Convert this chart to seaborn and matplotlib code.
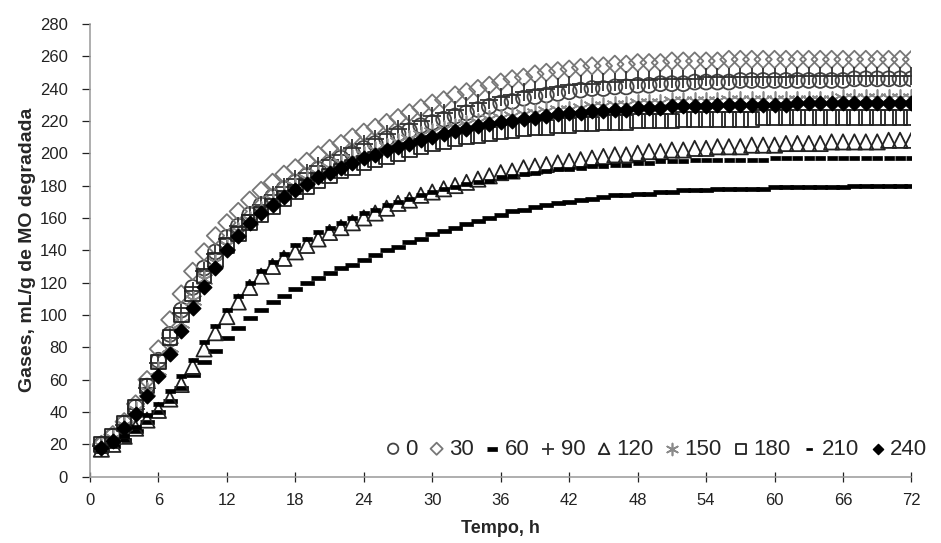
import pandas as pd
import matplotlib
matplotlib.use('Agg')
import matplotlib.pyplot as plt
import seaborn as sns

# Incubation time (h) and cumulative gas production per treatment
hours = list(range(1, 73))

gas_0 = [20, 25, 33, 43, 56, 72, 88, 103, 117, 129,
         139, 148, 155, 162, 168, 173, 178, 182, 186, 190,
         193, 197, 200, 203, 206, 209, 212, 214, 217, 219,
         221, 223, 225, 227, 229, 231, 232, 234, 235, 236,
         237, 238, 239, 240, 240, 241, 241, 242, 242, 243,
         243, 243, 244, 244, 244, 244, 245, 245, 245, 245,
         245, 245, 245, 245, 245, 245, 246, 246, 246, 246, 246, 246]
gas_30 = [20, 26, 34, 45, 60, 79, 97, 113, 127, 139,
          149, 157, 164, 171, 177, 182, 187, 191, 195, 199,
          203, 206, 210, 213, 216, 219, 222, 225, 228, 231,
          233, 236, 238, 240, 242, 244, 246, 247, 249, 250,
          251, 252, 253, 254, 254, 255, 255, 256, 256, 256,
          257, 257, 257, 257, 257, 258, 258, 258, 258, 258,
          258, 258, 258, 258, 258, 258, 258, 258, 258, 258, 258, 258]
gas_60 = [16, 19, 23, 28, 34, 40, 47, 55, 63, 71,
          78, 86, 92, 98, 103, 108, 112, 116, 120, 123,
          126, 129, 131, 134, 137, 140, 142, 145, 147, 150,
          152, 154, 156, 158, 160, 162, 164, 165, 167, 168,
          169, 170, 171, 172, 173, 174, 174, 175, 175, 176,
          176, 177, 177, 177, 178, 178, 178, 178, 178, 179,
          179, 179, 179, 179, 179, 179, 180, 180, 180, 180, 180, 180]
gas_90 = [19, 24, 32, 42, 55, 70, 86, 101, 115, 127,
          138, 147, 155, 162, 168, 174, 179, 184, 188, 192,
          196, 199, 203, 206, 209, 212, 215, 218, 220, 223,
          225, 227, 229, 231, 233, 235, 236, 238, 239, 240,
          241, 242, 243, 243, 244, 244, 245, 245, 245, 246,
          246, 246, 246, 247, 247, 247, 247, 247, 247, 247,
          247, 248, 248, 248, 248, 248, 248, 248, 248, 248, 248, 248]
gas_120 = [17, 20, 25, 30, 35, 41, 48, 57, 68, 79,
           89, 99, 108, 117, 124, 130, 135, 139, 143, 147,
           151, 154, 157, 160, 163, 166, 169, 171, 174, 176,
           178, 180, 182, 184, 186, 188, 189, 191, 192, 193,
           194, 195, 196, 197, 198, 199, 199, 200, 201, 201,
           202, 202, 203, 203, 204, 204, 204, 205, 205, 205,
           206, 206, 206, 206, 207, 207, 207, 207, 207, 208, 208, 208]
gas_150 = [19, 24, 32, 41, 53, 66, 80, 95, 109, 122,
           133, 143, 152, 159, 165, 171, 175, 180, 184, 187,
           191, 194, 197, 199, 202, 204, 207, 209, 211, 213,
           215, 216, 218, 219, 221, 222, 223, 224, 225, 226,
           227, 227, 228, 229, 229, 230, 230, 231, 231, 231,
           232, 232, 232, 232, 232, 233, 233, 233, 233, 233,
           233, 233, 233, 233, 233, 234, 234, 234, 234, 234, 234, 234]
gas_180 = [20, 25, 33, 43, 56, 71, 86, 100, 113, 124,
           134, 143, 150, 157, 162, 167, 172, 176, 179, 183,
           186, 189, 191, 194, 196, 198, 200, 202, 204, 206,
           207, 209, 210, 211, 212, 213, 214, 215, 216, 216,
           217, 217, 218, 218, 219, 219, 219, 220, 220, 220,
           220, 221, 221, 221, 221, 221, 221, 221, 222, 222,
           222, 222, 222, 222, 222, 222, 222, 222, 222, 222, 222, 222]
gas_210 = [17, 20, 25, 31, 38, 45, 53, 62, 72, 83,
           93, 103, 112, 120, 127, 133, 138, 143, 147, 151,
           154, 157, 160, 163, 165, 168, 170, 172, 174, 176,
           178, 179, 181, 182, 183, 185, 186, 187, 188, 189,
           190, 190, 191, 192, 192, 193, 193, 194, 194, 195,
           195, 195, 196, 196, 196, 196, 196, 196, 196, 197,
           197, 197, 197, 197, 197, 197, 197, 197, 197, 197, 197, 197]
gas_240 = [18, 22, 30, 39, 50, 62, 76, 90, 104, 117,
           129, 140, 149, 157, 163, 168, 173, 177, 181, 185,
           188, 191, 194, 197, 199, 202, 204, 206, 208, 210,
           212, 214, 215, 217, 218, 219, 220, 221, 222, 223,
           224, 225, 225, 226, 226, 227, 227, 228, 228, 228,
           229, 229, 229, 229, 230, 230, 230, 230, 230, 230,
           230, 231, 231, 231, 231, 231, 231, 231, 231, 231, 231, 231]

treatments = ['0', '30', '60', '90', '120', '150', '180', '210', '240']
series = [gas_0, gas_30, gas_60, gas_90, gas_120, gas_150, gas_180, gas_210, gas_240]

# marker, face colour, edge colour, size (points^2), edge width
thick_dash = [(-1, -0.3), (1, -0.3), (1, 0.3), (-1, 0.3)]
short_dash = [(-1, -0.32), (1, -0.32), (1, 0.32), (-1, 0.32)]
styles = {
    '0': ('o', 'none', '#444444', 115, 1.3),
    '30': ('D', 'none', '#777777', 78, 1.3),
    '60': (thick_dash, 'black', 'black', 115, 0.5),
    '90': ('+', '#333333', '#333333', 150, 1.3),
    '120': ('^', 'none', '#222222', 120, 1.3),
    '150': ((6, 2, 0), '#8a8a8a', '#8a8a8a', 150, 1.2),
    '180': ('s', 'none', '#222222', 110, 1.3),
    '210': (short_dash, 'black', 'black', 48, 0.5),
    '240': ('D', 'black', 'black', 55, 1.0),
}

frames = []
for name, values in zip(treatments, series):
    frames.append(pd.DataFrame({'Tempo': hours, 'Gases': values, 'Tratamento': name}))
df = pd.concat(frames, ignore_index=True)

sns.set_style('white')
plt.rcParams['font.family'] = ['Liberation Sans', 'DejaVu Sans']

fig = plt.figure(figsize=(9.41, 5.43), dpi=100)
ax = fig.add_axes([0.0956, 0.1221, 0.873, 0.834])

for name in treatments:
    marker, face, edge, size, lw = styles[name]
    sub = df[df['Tratamento'] == name]
    sns.scatterplot(data=sub, x='Tempo', y='Gases', ax=ax, marker=marker, s=size,
                    facecolor=face, edgecolor=edge, linewidth=lw, label=name, legend=False)

ax.set_xlim(0, 72)
ax.set_ylim(0, 280)
ax.set_xticks(range(0, 73, 6))
ax.set_yticks(range(0, 281, 20))
ax.tick_params(axis='both', labelsize=12, colors='#222222', width=0.9,
               left=True, bottom=True)
ax.tick_params(axis='y', direction='out', length=6, pad=10)
ax.tick_params(axis='x', direction='inout', length=7, pad=8)
for tick_line in ax.get_xticklines() + ax.get_yticklines():
    tick_line.set_color('#999999')
sns.despine(ax=ax)
for side in ['left', 'bottom']:
    ax.spines[side].set_color('#999999')
    ax.spines[side].set_linewidth(1.1)

ax.set_xlabel('Tempo, h', fontsize=13, fontweight='bold', labelpad=9)
ax.set_ylabel('Gases, mL/g de MO degradada', fontsize=14, fontweight='bold', labelpad=3)

handles, labels = ax.get_legend_handles_labels()
leg = ax.legend(handles, labels, loc='center right', bbox_to_anchor=(1.035, 0.061), ncol=9,
                frameon=False, fontsize=16, handletextpad=0.05, columnspacing=0.35,
                handlelength=1.0, markerscale=0.7, borderpad=0.1)

fig.savefig('out.png', dpi=100)
